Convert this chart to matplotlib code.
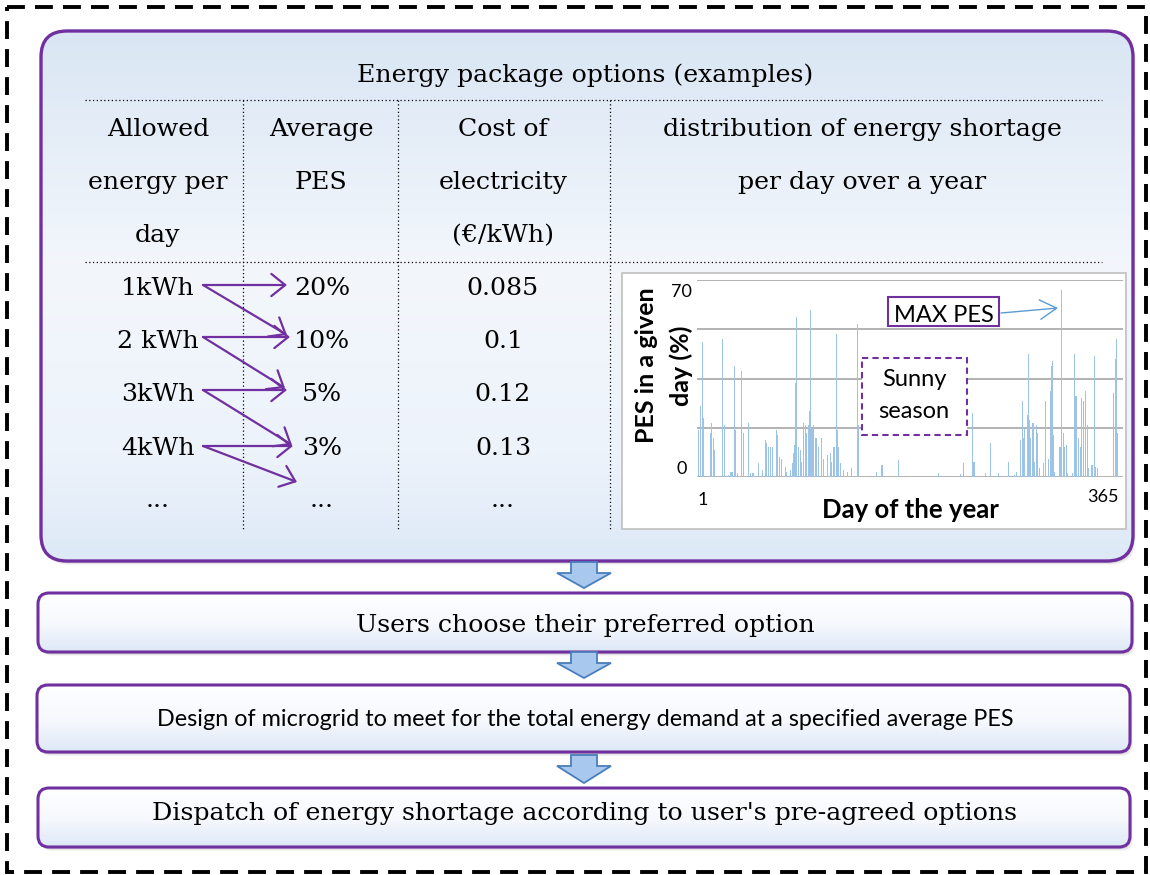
import matplotlib

matplotlib.use("Agg")
import matplotlib.pyplot as plt
import numpy as np
from matplotlib.colors import LinearSegmentedColormap
from matplotlib.patches import FancyArrowPatch, FancyBboxPatch, Polygon, Rectangle

W, H = 1150, 875
SERIF = "DejaVu Serif"
SANS = "Lato"
PURPLE = "#7030a0"
FS = 18.2

# --- table content ---
TITLE = "Energy package options (examples)"
HEADERS = [
    ["Allowed", "energy per", "day"],
    ["Average", "PES"],
    ["Cost of", "electricity", "(€/kWh)"],
    ["distribution of energy shortage", "per day over a year"],
]
ENERGY = ["1kWh", "2 kWh", "3kWh", "4kWh", "..."]
AVG_PES = ["20%", "10%", "5%", "3%", "..."]
COST = ["0.085", "0.1", "0.12", "0.13", "..."]
STEPS = [
    "Users choose their preferred option",
    "Design of microgrid to meet for the total energy demand at a specified average PES",
    "Dispatch of energy shortage according to user's pre-agreed options",
]

# --- PES per day (only days with a shortage) ---
DAYS = [2, 4, 5, 6, 12, 13, 15, 16, 23, 24, 28, 30, 31, 33, 34, 36, 39, 41, 45, 47,
        49, 54, 57, 60, 61, 62, 64, 66, 69, 70, 72, 74, 77, 78, 81, 83, 84, 85, 86, 87,
        88, 90, 91, 93, 94, 95, 97, 98, 99, 100, 101, 103, 104, 106, 108, 110, 113, 116, 117, 119,
        121, 122, 123, 125, 127, 131, 134, 139, 140, 156, 160, 161, 175, 209, 228, 231, 239, 240, 250, 254,
        261, 270, 275, 277, 280, 282, 283, 284, 286, 287, 288, 289, 291, 292, 294, 295, 297, 300, 302, 304,
        306, 307, 308, 309, 310, 314, 315, 316, 317, 318, 320, 321, 325, 327, 328, 329, 330, 332, 333, 335,
        336, 338, 339, 342, 344, 345, 347, 361, 362, 363, 364]
PES = [19, 29, 55, 24, 18, 22, 16, 11, 56, 21, 1, 2, 2, 45, 19, 1.5, 43, 18, 22, 1.5,
       1.5, 5.5, 3, 15, 14, 12, 12, 12, 19, 17, 8, 7.5, 4, 2, 3, 5.5, 9.6, 13, 38, 65,
       12, 11, 6, 22, 21, 18, 21, 27, 68, 20, 21, 16, 16, 12, 16, 7.5, 9, 9.6, 6, 12,
       58, 19, 12, 5.5, 3, 2, 3.5, 62, 21, 2, 5, 5, 7, 1.8, 1.4, 5.5, 26, 6, 1.5, 14,
       1.5, 6, 1, 2, 15, 31, 16, 20, 25, 50, 23, 16, 22, 6, 21, 18, 3.5, 5.5, 31, 7.5,
       35, 45, 47, 17, 2, 12, 12, 76, 18, 12, 13, 1.5, 1.5, 50, 33, 33, 16, 12, 32, 31,
       35, 21, 3.5, 5, 49, 4, 3.5, 34, 48, 56, 18]

fig = plt.figure(figsize=(W / 100, H / 100), dpi=100)
ax = fig.add_axes([0, 0, 1, 1])
ax.set_xlim(0, W)
ax.set_ylim(H, 0)
ax.axis("off")


def grad_box(a, x0, y0, x1, y1, r, stops, lw=2.2, shadow=True):
    if shadow:
        for k, al in [(4, 0.04), (3, 0.06), (2, 0.08)]:
            a.add_patch(FancyBboxPatch((x0 + k - 1, y0 + k), x1 - x0, y1 - y0,
                                       boxstyle=f"round,pad=0,rounding_size={r}",
                                       fc="black", ec="none", alpha=al, zorder=1))
    patch = FancyBboxPatch((x0, y0), x1 - x0, y1 - y0,
                           boxstyle=f"round,pad=0,rounding_size={r}",
                           fc="none", ec=PURPLE, lw=lw, zorder=3)
    a.add_patch(patch)
    cmap = LinearSegmentedColormap.from_list("g", stops)
    g = np.linspace(0, 1, 256)[:, None]
    im = a.imshow(g, cmap=cmap, extent=(x0, x1, y1, y0), origin="upper",
                  aspect="auto", zorder=2, interpolation="bilinear")
    im.set_clip_path(patch)


# outer dashed frame
ax.add_patch(Rectangle((7, 7), 1139, 865, fill=False, ec="black", lw=2.8,
                       ls=(0, (4.6, 2.6)), zorder=5))

# main box
grad_box(ax, 41, 31, 1133, 561, 26,
         [(0, "#dae6f4"), (0.45, "#f3f7fc"), (0.8, "#edf3fb"), (1, "#dde9f7")], lw=2.4)

ax.text(585, 82, TITLE, family=SERIF, fontsize=FS, ha="center", va="baseline", zorder=6)

# table dotted lines
dot = dict(color="black", lw=0.9, ls=(0, (1, 2)), zorder=6)
ax.plot([85, 1102], [100, 100], **dot)
ax.plot([85, 1102], [262, 262], **dot)
for xv in [243, 398, 610]:
    ax.plot([xv, xv], [100, 530], **dot)

col_x = [158, 321, 503, 862]
for cx, lines in zip(col_x, HEADERS):
    for i, t in enumerate(lines):
        ax.text(cx, 136 + 53 * i, t, family=SERIF, fontsize=FS, ha="center",
                va="baseline", zorder=6)

row_base = [295, 348, 401, 455, 507]
for i, (e, p, c) in enumerate(zip(ENERGY, AVG_PES, COST)):
    ax.text(158, row_base[i], e, family=SERIF, fontsize=FS, ha="center", va="baseline", zorder=6)
    ax.text(322, row_base[i], p, family=SERIF, fontsize=FS, ha="center", va="baseline", zorder=6)
    ax.text(503, row_base[i], c, family=SERIF, fontsize=FS, ha="center", va="baseline", zorder=6)

# purple arrows: each option points to its own PES and the next one
row_mid = [285, 337, 390, 446]
tips_same = [287, 290, 287, 293]
tips_next = [(287, 335), (285, 388), (292, 445), (297, 482)]
for i, ym in enumerate(row_mid):
    x_start = 203
    for (xe, ye) in [(tips_same[i], ym), tips_next[i]]:
        ax.add_patch(FancyArrowPatch((x_start, ym), (xe, ye),
                                     arrowstyle="->,head_length=0.5,head_width=0.4",
                                     mutation_scale=20, color=PURPLE, lw=1.6,
                                     shrinkA=0, shrinkB=0, zorder=7))

# small chart frame
ax.add_patch(Rectangle((622, 273), 504, 256, fc="white", ec="#bfbfbf", lw=1.2, zorder=6))

# step boxes
step_boxes = [(38, 593, 1132, 652), (37, 685, 1130, 752), (38, 788, 1130, 847)]
step_base = [632, 726, 820]
for i, (x0, y0, x1, y1) in enumerate(step_boxes):
    grad_box(ax, x0, y0, x1, y1, 11,
             [(0, "#ffffff"), (0.55, "#f5f8fd"), (1, "#dde8f6")], lw=2.2)
    fam, fs = (SANS, 16.8) if i == 1 else (SERIF, FS)
    ax.text(585, step_base[i], STEPS[i], family=fam, fontsize=fs, ha="center",
            va="baseline", zorder=6)

# blue block arrows between boxes
for top, neck, tip in [(562, 573, 588), (652, 663, 678), (755, 766, 783)]:
    pts = [(571, top), (597, top), (597, neck), (611, neck), (584, tip), (557, neck), (571, neck)]
    ax.add_patch(Polygon(pts, closed=True, fc="#a9c8ee", ec="#4a7ebb", lw=1.3, zorder=8))

# --- inset bar chart ---
px0, px1, py0, py1 = 697, 1123, 280, 477
ax2 = fig.add_axes([px0 / W, (H - py1) / H, (px1 - px0) / W, (py1 - py0) / H])
ax2.set_facecolor("none")
ax2.bar(DAYS, PES, width=0.9, color="#9dc3e6", lw=0, zorder=2)
ax2.set_xlim(0.6, 368.8)
ax2.set_ylim(0, 80)
ax2.set_yticks([0, 20, 40, 60, 80])
ax2.set_xticks([])
ax2.grid(axis="y", color="#a6a6a6", lw=1.2, zorder=0)
ax2.set_axisbelow(True)
ax2.tick_params(length=0, labelleft=False)
for s in ax2.spines.values():
    s.set_visible(False)

# overlay for labels and callouts
ax3 = fig.add_axes([0, 0, 1, 1])
ax3.set_xlim(0, W)
ax3.set_ylim(H, 0)
ax3.axis("off")

ax3.text(681, 292, "70", family=SANS, fontsize=13, ha="center", va="center")
ax3.text(682, 469, "0", family=SANS, fontsize=13, ha="center", va="center")
ax3.text(703, 500, "1", family=SANS, fontsize=13, ha="center", va="center")
ax3.text(1103, 497, "365", family=SANS, fontsize=13, ha="center", va="center")
ax3.text(910, 510, "Day of the year", family=SANS, fontsize=18.5, fontweight="bold",
         ha="center", va="center")
ax3.text(646, 365, "PES in a given", family=SANS, fontsize=18, fontweight="bold",
         rotation=90, ha="center", va="center")
ax3.text(681, 366, "day (%)", family=SANS, fontsize=18, fontweight="bold",
         rotation=90, ha="center", va="center")

ax3.add_patch(Rectangle((888, 297), 111, 29, fc="none", ec=PURPLE, lw=1.5))
ax3.text(944, 315, "MAX PES", family=SANS, fontsize=17, ha="center", va="center")
ax3.add_patch(FancyArrowPatch((1001, 313), (1058, 308),
                              arrowstyle="->,head_length=0.6,head_width=0.35",
                              mutation_scale=20, color="#5b9bd5", lw=1.0,
                              shrinkA=0, shrinkB=0))

ax3.add_patch(Rectangle((862, 358), 105, 77, fc="white", ec=PURPLE, lw=1.5,
                        ls=(0, (3, 2))))
ax3.text(914, 379, "Sunny", family=SANS, fontsize=17, ha="center", va="center")
ax3.text(914, 412, "season", family=SANS, fontsize=17, ha="center", va="center")

fig.savefig("out.png", dpi=100)
